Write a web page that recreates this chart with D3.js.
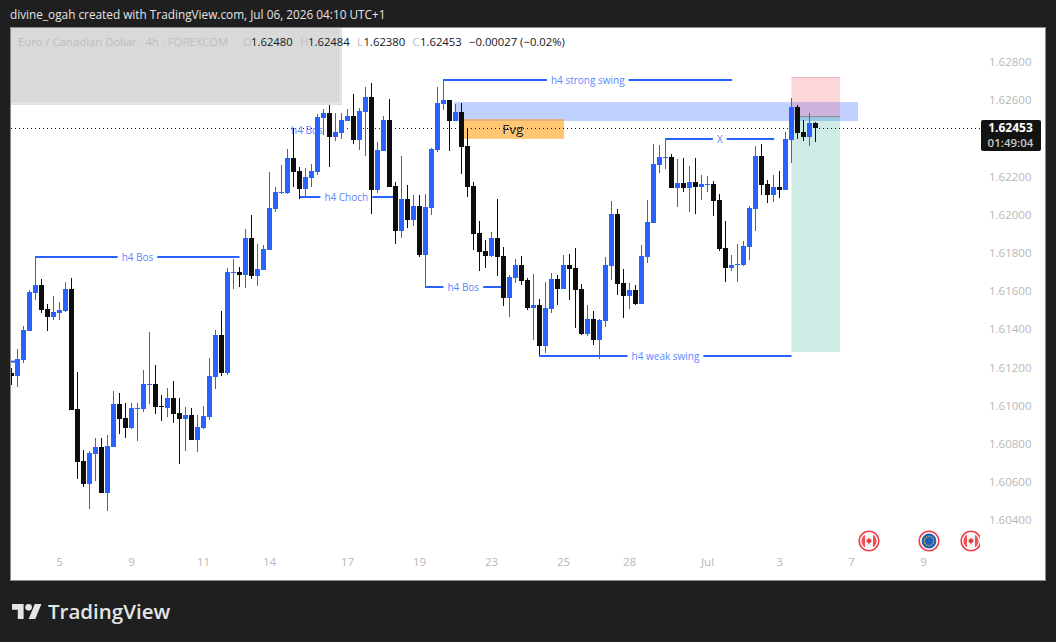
<!DOCTYPE html>
<html>
<head>
<meta charset="utf-8">
<script src="https://cdn.jsdelivr.net/npm/d3@7"></script>
<style>
html,body{margin:0;padding:0;background:#1f1f1f;overflow:hidden}
svg{display:block}
text{font-family:"Open Sans",sans-serif}
</style>
</head>
<body>
<svg id="c" width="1056" height="642"></svg>
<script>
const highs=[1.61197,1.61296,1.61417,1.61605,1.61778,1.61663,1.61532,1.61574,1.61542,1.61647,
1.61668,1.61176,1.60767,1.60762,1.60830,1.60830,1.60846,1.61076,1.61066,1.61013,
1.61013,1.61013,1.61186,1.61385,1.61212,1.61055,1.61092,1.61128,1.61039,1.60992,
1.60987,1.60950,1.60997,1.61249,1.61396,1.61495,1.61721,1.61768,1.61726,1.61925,
1.61998,1.61846,1.61841,1.62224,1.62145,1.62260,1.62344,1.62454,1.62250,1.62245,
1.62266,1.62528,1.62554,1.62575,1.62533,1.62533,1.62554,1.62632,1.62559,1.62669,
1.62690,1.62381,1.62517,1.62606,1.62171,1.62307,1.62155,1.62103,1.62103,1.62108,
1.62349,1.62669,1.62706,1.62601,1.62580,1.62585,1.62454,1.62171,1.61967,1.61867,
1.61909,1.62082,1.61831,1.61684,1.61768,1.61783,1.61668,1.61689,1.61558,1.61647,
1.61694,1.61684,1.61789,1.61794,1.61825,1.61637,1.61527,1.61495,1.61453,1.61778,
1.62072,1.62030,1.61715,1.61642,1.61631,1.61841,1.62077,1.62370,1.62365,1.62397,
1.62318,1.62292,1.62297,1.62255,1.62297,1.62208,1.62203,1.62176,1.62108,1.61967,
1.61789,1.61846,1.61862,1.62045,1.62360,1.62370,1.62182,1.62208,1.62229,1.62433,
1.62611,1.62575,1.62496,1.62533,1.62484];
const lows=[1.61108,1.61097,1.61223,1.61390,1.61553,1.61485,1.61390,1.61448,1.61448,1.61490,
1.60976,1.60615,1.60573,1.60458,1.60604,1.60542,1.60447,1.60783,1.60851,1.60830,
1.60877,1.60814,1.60966,1.61008,1.60955,1.60919,1.60940,1.60908,1.60693,1.60762,
1.60819,1.60756,1.60877,1.60924,1.61086,1.61155,1.61160,1.61611,1.61621,1.61616,
1.61663,1.61626,1.61710,1.61815,1.62014,1.62108,1.62108,1.62145,1.62082,1.62098,
1.62145,1.62208,1.62417,1.62250,1.62386,1.62397,1.62491,1.62370,1.62339,1.62307,
1.62004,1.62114,1.62334,1.62145,1.61846,1.61878,1.61930,1.61941,1.61778,1.61621,
1.61998,1.62328,1.62549,1.62334,1.62491,1.62213,1.62093,1.61815,1.61705,1.61721,
1.61778,1.61679,1.61521,1.61464,1.61642,1.61631,1.61500,1.61343,1.61265,1.61275,
1.61485,1.61527,1.61611,1.61553,1.61406,1.61370,1.61364,1.61317,1.61244,1.61411,
1.61658,1.61579,1.61459,1.61506,1.61527,1.61532,1.61747,1.61956,1.62218,1.62239,
1.62140,1.62040,1.62119,1.62014,1.62004,1.62077,1.62119,1.61993,1.61810,1.61647,
1.61705,1.61647,1.61731,1.61762,1.61914,1.62103,1.62061,1.62066,1.62087,1.62129,
1.62271,1.62397,1.62386,1.62360,1.62380];
const opens=[1.61170,1.61155,1.61238,1.61390,1.61590,1.61631,1.61506,1.61464,1.61485,1.61495,
1.61611,1.60982,1.60709,1.60589,1.60746,1.60783,1.60542,1.60783,1.61008,1.60935,
1.60882,1.60982,1.60982,1.61108,1.61113,1.60997,1.60987,1.61039,1.60961,1.60929,
1.60950,1.60819,1.60882,1.60940,1.61149,1.61370,1.61170,1.61694,1.61700,1.61684,
1.61878,1.61679,1.61710,1.61815,1.62030,1.62114,1.62114,1.62297,1.62229,1.62135,
1.62192,1.62224,1.62507,1.62533,1.62407,1.62428,1.62491,1.62517,1.62391,1.62538,
1.62617,1.62129,1.62334,1.62496,1.62150,1.61914,1.62082,1.61972,1.62045,1.61789,
1.62035,1.62339,1.62580,1.62601,1.62491,1.62538,1.62360,1.62150,1.61904,1.61810,
1.61783,1.61878,1.61783,1.61563,1.61668,1.61736,1.61658,1.61511,1.61527,1.61312,
1.61506,1.61663,1.61611,1.61736,1.61721,1.61611,1.61375,1.61453,1.61343,1.61443,
1.61731,1.62004,1.61642,1.61574,1.61605,1.61532,1.61778,1.61956,1.62260,1.62297,
1.62302,1.62140,1.62166,1.62140,1.62171,1.62145,1.62155,1.62161,1.62077,1.61825,
1.61721,1.61736,1.61736,1.61831,1.62030,1.62307,1.62161,1.62103,1.62145,1.62129,
1.62391,1.62564,1.62433,1.62407,1.62480];
const closes=[1.61155,1.61244,1.61396,1.61595,1.61631,1.61500,1.61464,1.61490,1.61500,1.61611,
1.60976,1.60704,1.60589,1.60751,1.60783,1.60542,1.60788,1.61008,1.60929,1.60882,
1.60987,1.60987,1.61113,1.61113,1.60992,1.60992,1.61039,1.60955,1.60929,1.60950,
1.60819,1.60887,1.60945,1.61155,1.61370,1.61170,1.61700,1.61700,1.61684,1.61878,
1.61679,1.61715,1.61820,1.62035,1.62119,1.62119,1.62297,1.62224,1.62135,1.62197,
1.62229,1.62512,1.62533,1.62407,1.62433,1.62496,1.62517,1.62391,1.62543,1.62617,
1.62129,1.62339,1.62496,1.62145,1.61914,1.62082,1.61972,1.62045,1.61789,1.62040,
1.62344,1.62585,1.62601,1.62491,1.62538,1.62355,1.62145,1.61899,1.61804,1.61783,
1.61878,1.61778,1.61563,1.61673,1.61736,1.61652,1.61511,1.61527,1.61312,1.61511,
1.61663,1.61611,1.61736,1.61715,1.61605,1.61375,1.61453,1.61343,1.61448,1.61736,
1.62004,1.61637,1.61574,1.61605,1.61532,1.61783,1.61962,1.62266,1.62302,1.62302,
1.62140,1.62166,1.62140,1.62171,1.62145,1.62161,1.62161,1.62072,1.61820,1.61721,
1.61736,1.61741,1.61836,1.62035,1.62307,1.62155,1.62103,1.62145,1.62129,1.62397,
1.62564,1.62428,1.62407,1.62480,1.62453];

const priceTicks=[1.628,1.626,1.622,1.62,1.618,1.616,1.614,1.612,1.61,1.608,1.606,1.604];
const timeTickBars=[8,20,32,43,56,68,80,92,103,116,128,140,152];
const timeTickLabels=["5","9","11","14","17","19","23","25","28","Jul","3","7","9"];
const lastPrice=1.62453;

const noteLabels=["h4 Bos","h4 Choch","h4 Bos","h4 weak swing","h4 strong swing","X"];
const noteStarts=[4,48,69,88,72,109];
const noteEnds=[38,63.6,81.6,130,120.1,127.1];
const notePrices=[1.61778,1.62093,1.61619,1.61259,1.62708,1.62397];

const blueZone=[73.8,141.1,1.6259,1.62491];
const fvgZone=[75,92.1,1.62501,1.62397];
const tradeBox=[130,138.1,1.62721,1.62514,1.6128];
const eventBars=[143,153,160];
const eventKinds=["ca","eu","ca"];

const blue="#2962ff",black="#0d0d0d";
const svg=d3.select("#c");
const x=d3.scaleLinear().domain([0,1]).range([11.5,17.5]);
const y=d3.scaleLinear().domain([1.628,1.604]).range([62,520]);

svg.append("rect").attr("width",1056).attr("height",642).attr("fill","#1f1f1f");
svg.append("text").attr("x",10).attr("y",19).attr("fill","#e4e4e4").attr("font-size",11.8)
  .text("divine_ogah created with TradingView.com, Jul 06, 2026 04:10 UTC+1");
svg.append("rect").attr("x",10.5).attr("y",27.5).attr("width",1035).attr("height",553)
  .attr("fill","#fff").attr("stroke","#8a8a8a").attr("stroke-width",1);

svg.append("clipPath").attr("id","plot").append("rect").attr("x",11).attr("y",28).attr("width",969).attr("height",552);
const plot=svg.append("g").attr("clip-path","url(#plot)");

const zone=(a,b,p0,p1,fill)=>plot.append("rect").attr("x",x(a)).attr("width",x(b)-x(a))
  .attr("y",y(p0)).attr("height",y(p1)-y(p0)).attr("fill",fill);
zone(blueZone[0],blueZone[1],blueZone[2],blueZone[3],"rgba(41,98,255,0.29)");
zone(fvgZone[0],fvgZone[1],fvgZone[2],fvgZone[3],"rgba(255,152,0,0.55)");
zone(tradeBox[0],tradeBox[1],tradeBox[2],tradeBox[3],"rgba(242,54,69,0.2)");
zone(tradeBox[0],tradeBox[1],tradeBox[3],tradeBox[4],"rgba(8,153,129,0.2)");
plot.append("line").attr("x1",x(tradeBox[0])).attr("x2",x(tradeBox[1])).attr("y1",y(tradeBox[3])).attr("y2",y(tradeBox[3])).attr("stroke","#8b8b8b").attr("stroke-width",1);
plot.append("line").attr("x1",x(tradeBox[0])).attr("x2",x(tradeBox[1])).attr("y1",y(tradeBox[2])+.5).attr("y2",y(tradeBox[2])+.5).attr("stroke","#f2b6bb").attr("stroke-width",1);

plot.append("text").attr("x",x((fvgZone[0]+fvgZone[1])/2)).attr("y",y(1.6245)+5).attr("text-anchor","middle")
  .attr("font-size",13.5).attr("fill","#222").text("Fvg");

plot.append("line").attr("x1",11).attr("x2",980).attr("y1",Math.round(y(lastPrice))+.5).attr("y2",Math.round(y(lastPrice))+.5)
  .attr("stroke","#111").attr("stroke-width",1).attr("stroke-dasharray","1 3");

plot.append("rect").attr("x",11).attr("width",4).attr("y",y(1.6123)-1).attr("height",2).attr("fill",blue);
plot.append("text").attr("x",x(46.6)).attr("y",y(1.62446)+4).attr("font-size",10).attr("fill","#5d87ff").text("h4 Bos");

noteLabels.forEach((t,i)=>{
  const py=Math.round(y(notePrices[i]));
  const g=plot.append("g");
  g.append("rect").attr("x",x(noteStarts[i])-.5).attr("width",x(noteEnds[i])-x(noteStarts[i])+.5).attr("y",py-1).attr("height",2).attr("fill",blue);
  const lx=(x(noteStarts[i])+x(noteEnds[i]))/2;
  const label=g.append("text").attr("x",lx).attr("y",py+4).attr("text-anchor","middle")
    .attr("font-size",10).attr("fill","#5d87ff").text(t);
  const w=label.node().getComputedTextLength();
  g.insert("rect","text").attr("x",lx-w/2-4).attr("width",w+8).attr("y",py-2).attr("height",4).attr("fill","#fff");
});

const bars=d3.range(highs.length);
const col=i=>closes[i]>opens[i]?blue:black;
plot.append("g").selectAll("rect").data(bars).join("rect")
  .attr("x",i=>x(i)-.5).attr("width",1)
  .attr("y",i=>Math.round(y(highs[i])))
  .attr("height",i=>Math.max(1,Math.round(y(lows[i]))-Math.round(y(highs[i]))))
  .attr("fill",col);
plot.append("g").selectAll("rect").data(bars).join("rect")
  .attr("x",i=>x(i)-2.5).attr("width",5)
  .attr("y",i=>Math.round(y(Math.max(opens[i],closes[i]))))
  .attr("height",i=>Math.max(1,Math.round(y(Math.min(opens[i],closes[i])))-Math.round(y(Math.max(opens[i],closes[i])))))
  .attr("fill",col);

const ev=plot.append("g");
eventKinds.forEach((k,i)=>{
  const g=ev.append("g").attr("transform",`translate(${x(eventBars[i])-.5},541)`);
  g.append("circle").attr("r",9.8).attr("fill","#fff").attr("stroke","#f0404f").attr("stroke-width",1.6);
  if(k==="eu"){
    g.append("circle").attr("r",7.4).attr("fill","#1b5fb5");
    d3.range(12).forEach(j=>g.append("circle").attr("r",.75).attr("fill","#f2c230")
      .attr("cx",4.7*Math.cos(j*Math.PI/6)).attr("cy",4.7*Math.sin(j*Math.PI/6)));
  } else {
    g.append("clipPath").attr("id","fl"+i).append("circle").attr("r",7.6);
    const f=g.append("g").attr("clip-path",`url(#fl${i})`);
    f.append("rect").attr("x",-8).attr("y",-8).attr("width",16).attr("height",16).attr("fill","#f6f6f6");
    f.append("rect").attr("x",-8).attr("y",-8).attr("width",4).attr("height",16).attr("fill","#ef5350");
    f.append("rect").attr("x",4).attr("y",-8).attr("width",4).attr("height",16).attr("fill","#ef5350");
    f.append("path").attr("d","M0,-3.4L1,-1.6L2.6,-2.1L2,.2L3,.6L.4,2.2V3.4H-.4V2.2L-3,.6L-2,.2L-2.6,-2.1L-1,-1.6Z").attr("fill","#e53935");
  }
});

svg.append("rect").attr("x",11).attr("y",28).attr("width",331).attr("height",77).attr("fill","#d9d9d9");
svg.append("path").attr("d","M11,103.5H340.5V28").attr("fill","none").attr("stroke","#e6e6e6").attr("stroke-width",2);
const leg=[[18,"Euro / Canadian Dollar · 4h · FOREXCOM","#bdbdbd"],[243,"O","#bdbdbd"],[251,"1.62480","#131722"],
[300,"H","#bdbdbd"],[308,"1.62484","#131722"],[357,"L","#bdbdbd"],[363.5,"1.62380","#131722"],
[412.5,"C","#bdbdbd"],[420,"1.62453","#131722"],[469,"−0.00027 (−0.02%)","#131722"]];
leg.forEach(d=>svg.append("text").attr("x",d[0]).attr("y",46).attr("font-size",11.3).attr("fill",d[2]).text(d[1]));

const yAxis=d3.axisRight(y).tickValues(priceTicks).tickFormat(d3.format(".5f")).tickSize(0).tickPadding(0);
const ya=svg.append("g").attr("transform","translate(989,0)").call(yAxis);
ya.select(".domain").remove();
ya.selectAll("text").attr("fill","#b8b8b8").attr("font-size",11.5).attr("font-family","'Open Sans',sans-serif");

const xAxis=d3.axisBottom(x).tickValues(timeTickBars).tickFormat((d,i)=>timeTickLabels[i]).tickSize(0).tickPadding(0);
const xa=svg.append("g").attr("transform","translate(-0.5,558)").call(xAxis);
xa.select(".domain").remove();
xa.selectAll("text").attr("fill","#b8b8b8").attr("font-size",11.5).attr("font-family","'Open Sans',sans-serif");

svg.append("rect").attr("x",981).attr("y",120).attr("width",60).attr("height",31).attr("rx",2).attr("fill","#131313");
svg.append("text").attr("x",1010.5).attr("y",132).attr("text-anchor","middle").attr("font-size",12).attr("font-weight",700).attr("fill","#fff").text(d3.format(".5f")(lastPrice));
svg.append("text").attr("x",1010.5).attr("y",147).attr("text-anchor","middle").attr("font-size",11.5).attr("font-weight",600).attr("fill","#c8c8c8").text("01:49:04");

const lg=svg.append("g").attr("transform","translate(12,600.7) scale(0.83)").attr("fill","#e4e4e4");
lg.append("path").attr("d","M14 22H7V11H0V4h14v18zM28 22h-8l7.5-18h8L28 22z");
lg.append("circle").attr("cx",20).attr("cy",8).attr("r",4);
svg.append("text").attr("x",48).attr("y",619).attr("font-family","Inter, sans-serif").attr("font-size",20.5).attr("font-weight",600).attr("fill","#e4e4e4").text("TradingView");
</script>
</body>
</html>
